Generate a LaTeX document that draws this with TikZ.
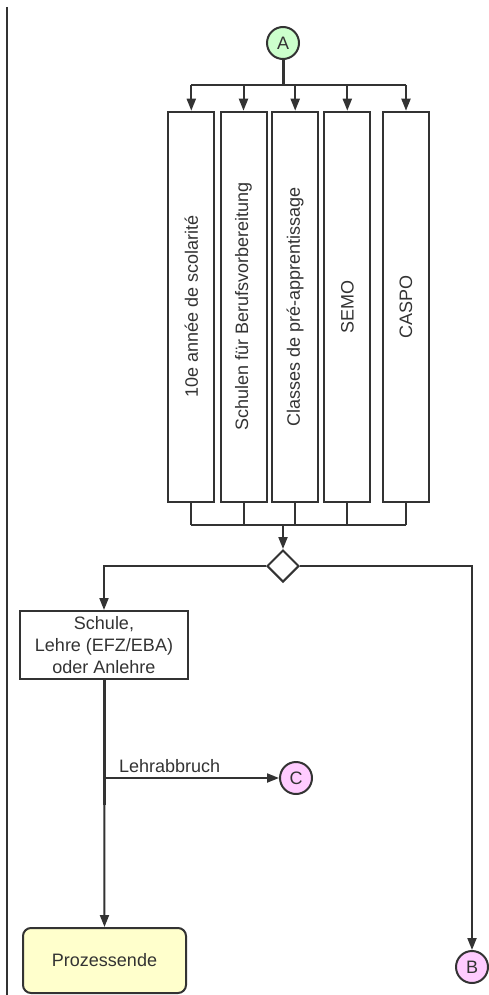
\documentclass[tikz,border=0pt]{standalone}
\usepackage{fontspec}
\setmainfont{Liberation Sans}
\usetikzlibrary{shapes.geometric,arrows.meta}
\definecolor{ink}{HTML}{333333}
\definecolor{agreen}{HTML}{CCFFCC}
\definecolor{bpink}{HTML}{FFCCFF}
\definecolor{pyellow}{HTML}{FFFFCC}
\tikzset{
  every node/.style={font=\fontsize{18}{22}\selectfont, text=ink},
  conn/.style={draw=ink, line width=2pt},
  thickconn/.style={draw=ink, line width=3pt},
  arr/.style={conn, -{Triangle[length=12pt,width=9pt]}},
  connector/.style={circle, draw=ink, line width=2pt, minimum size=32pt, inner sep=0pt},
  tallbox/.style={rectangle, draw=ink, line width=2pt, minimum height=46pt, minimum width=390pt, inner sep=0pt, rotate=90},
  stepbox/.style={rectangle, draw=ink, line width=2pt, align=center, inner sep=0pt},
  decision/.style={diamond, draw=ink, line width=2pt, fill=white, minimum width=32pt, minimum height=32pt, inner sep=0pt},
  endbox/.style={rectangle, rounded corners=8pt, draw=ink, line width=2pt, fill=pyellow, inner sep=0pt}
}
\begin{document}
\begin{tikzpicture}[x=1pt,y=-1pt]
\useasboundingbox (0,0) rectangle (489,995);
\draw[ink, line width=2pt] (7,7) -- (7,995);

\node[connector, fill=agreen] (A) at (283,43) {A};

\node[tallbox] (b1) at (191.3,306.7) {10e année de scolarité};
\node[tallbox] (b2) at (243.5,306.7) {Schulen für Berufsvorbereitung};
\node[tallbox] (b3) at (295.2,306.7) {Classes de pré-apprentissage};
\node[tallbox] (b4) at (347.3,306.7) {SEMO};
\node[tallbox] (b5) at (406,306.7) {CASPO};

\coordinate (top) at (283,85);
\draw[thickconn] (A.south) -- (top);
\draw[conn] (b1.east |- top) -- (b5.east |- top);
\foreach \b in {b1,b2,b3,b4,b5}{
  \draw[arr] (\b.east |- top) -- (\b.east);
}

\coordinate (bot) at (283,525);
\foreach \b in {b1,b2,b3,b4,b5}{
  \draw[conn] (\b.west) -- (\b.west |- bot);
}
\draw[conn] (b1.west |- bot) -- (b5.west |- bot);

\node[decision] (d) at (283,566) {};
\draw[arr] (bot) -- (d.north);

\node[stepbox, minimum width=168pt, minimum height=68pt] (S) at (104,645) {Schule,\\Lehre (EFZ/EBA)\\oder Anlehre};
\node[endbox, minimum width=163pt, minimum height=65pt] (P) at (104.5,960.5) {Prozessende};
\node[connector, fill=bpink] (C) at (296,778) {C};
\node[connector, fill=bpink] (B) at (472,967) {B};

\draw[arr] (d.west) -| (S.north);
\draw[arr] (d.east) -| (B.north);

\coordinate (split) at (104,778);
\coordinate (thickend) at (104,805);
\draw[thickconn] (S.south) -- (thickend);
\draw[arr] (S.south) -- (P.north);
\draw[arr] (split) -- node[above, pos=0.375, yshift=1pt] (lbl) {Lehrabbruch} (C.west);
\end{tikzpicture}
\end{document}
